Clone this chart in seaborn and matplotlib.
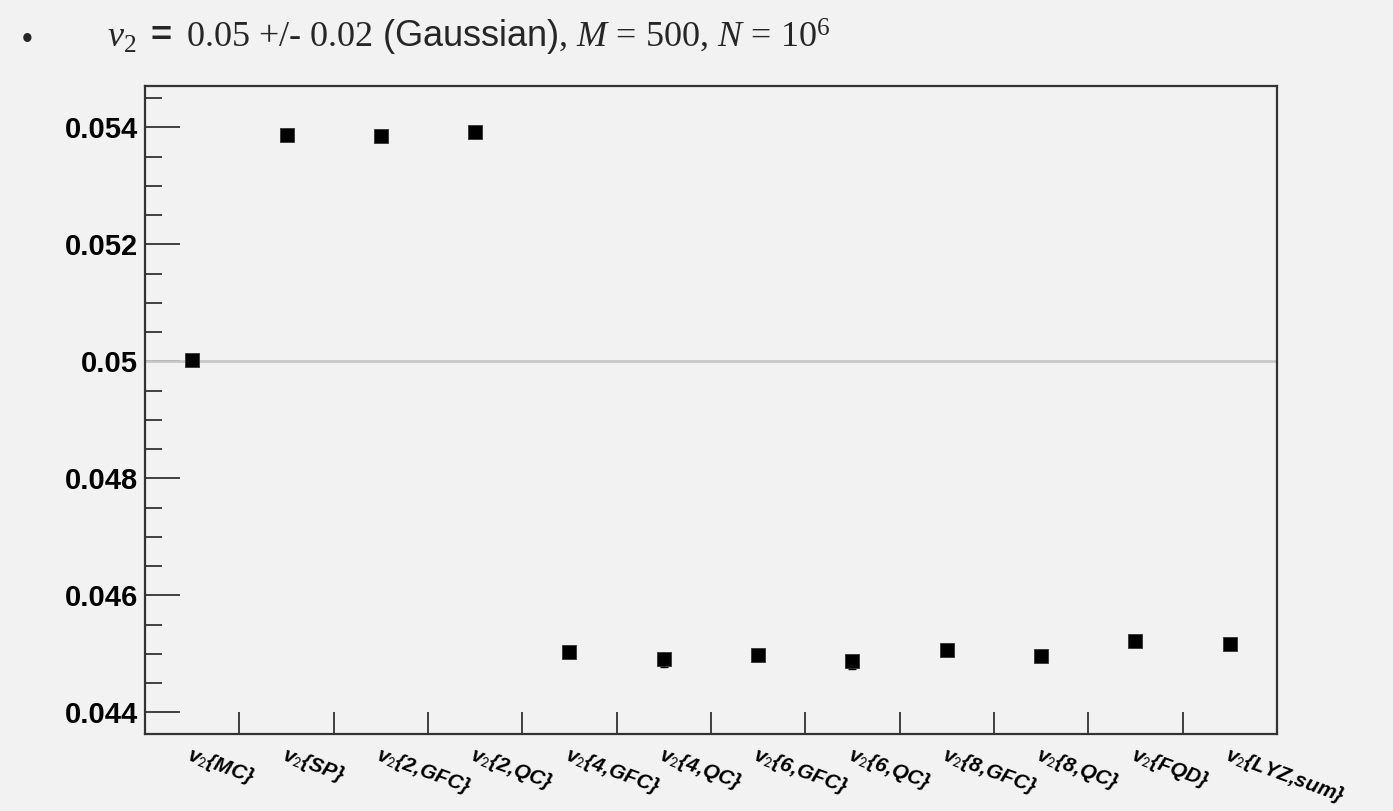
import numpy as np
import pandas as pd
import matplotlib
matplotlib.use("Agg")
import matplotlib.pyplot as plt
import seaborn as sns
from matplotlib.ticker import FixedLocator, MultipleLocator, FuncFormatter

# data
methods = ["MC", "SP", "2,GFC", "2,QC", "4,GFC", "4,QC", "6,GFC", "6,QC",
           "8,GFC", "8,QC", "FQD", "LYZ,sum"]
v2_values = [0.05003, 0.053875, 0.053851, 0.05392, 0.045026, 0.044906,
             0.04498, 0.044872, 0.04506, 0.04496, 0.045219, 0.045174]
err_low = [0, 0, 0, 0, 0, 0.00013, 0, 0.00013, 0, 0, 0, 0.00006]
err_high = [0] * len(methods)
y_major = [0.044, 0.046, 0.048, 0.05, 0.052, 0.054]
mc_value = 0.05

df = pd.DataFrame({"method": methods, "v2": v2_values})
df["pos"] = np.arange(len(df))

sns.set_style("ticks")
bg = "#f2f2f2"
plt.rcParams["font.family"] = ["Liberation Sans", "DejaVu Sans"]
plt.rcParams["mathtext.fontset"] = "custom"
plt.rcParams["mathtext.rm"] = "Liberation Serif"
plt.rcParams["mathtext.it"] = "Liberation Serif:italic"
plt.rcParams["mathtext.bf"] = "Liberation Sans:bold"
plt.rcParams["mathtext.sf"] = "Liberation Sans"

fig = plt.figure(figsize=(13.93, 8.11), dpi=100, facecolor=bg)
ax = fig.add_axes([0.1041, 0.0949, 0.8126, 0.7994], facecolor=bg)

# reference line at the input v2
ax.axhline(mc_value, color="#c8c8c8", lw=2, zorder=1)

ax.errorbar(df["pos"], df["v2"], yerr=[err_low, err_high], fmt="none",
            ecolor="black", elinewidth=1.2, capsize=3, zorder=2)
sns.scatterplot(data=df, x="pos", y="v2", marker="s", color="black", s=90,
                edgecolor="#333333", linewidth=0.6, ax=ax, zorder=3, legend=False)

ax.set_xlim(-0.5, len(methods) - 0.5)
ax.set_ylim(0.04363, 0.05471)
ax.set_xlabel("")
ax.set_ylabel("")

# y axis: ROOT-like inward ticks
ax.yaxis.set_major_locator(FixedLocator(y_major))
ax.yaxis.set_minor_locator(MultipleLocator(0.0005))
ax.yaxis.set_major_formatter(FuncFormatter(lambda v, p: "%g" % round(v, 4)))
ax.tick_params(axis="y", which="major", direction="in", length=25, width=1.2,
               labelsize=21, pad=5, color="#222222", labelcolor="black")
ax.tick_params(axis="y", which="minor", direction="in", length=12.5, width=1.2,
               color="#222222")
for lab in ax.get_yticklabels():
    lab.set_fontweight("bold")

# x axis: ticks at bin edges, labels at bin centres
ax.xaxis.set_major_locator(FixedLocator(df["pos"].values[:-1] + 0.5))
ax.xaxis.set_minor_locator(FixedLocator(df["pos"].values))
ax.tick_params(axis="x", which="major", direction="in", length=16, width=1.2,
               labelbottom=False, color="#222222")
ax.tick_params(axis="x", which="minor", length=0, pad=7, labelcolor="black")
ax.set_xticklabels(["v$_2${" + m + "}" for m in methods], minor=True)
for lab in ax.get_xticklabels(minor=True):
    lab.set_rotation(-20)
    lab.set_rotation_mode("anchor")
    lab.set_ha("left")
    lab.set_va("top")
    lab.set_fontsize(15)
    lab.set_fontstyle("italic")
    lab.set_fontweight("bold")
    lab.set_math_fontfamily("stixsans")

for sp in ax.spines.values():
    sp.set_visible(True)
    sp.set_color("#333333")
    sp.set_linewidth(1.6)

# slide-style title line
fig.text(0.0158, 0.9408, "\u2022", fontsize=22, va="baseline", ha="left",
         family="Liberation Sans")
fig.text(0.077, 0.9408,
         r"$v_2$ $\mathbf{=}$ 0.05 +/- 0.02 $\mathsf{(Gaussian)}$, $M$ = 500, $N$ = $\mathrm{10}^{6}$",
         fontsize=26, va="baseline", ha="left", family="Liberation Serif")

fig.savefig("out.png", dpi=100, facecolor=bg)
